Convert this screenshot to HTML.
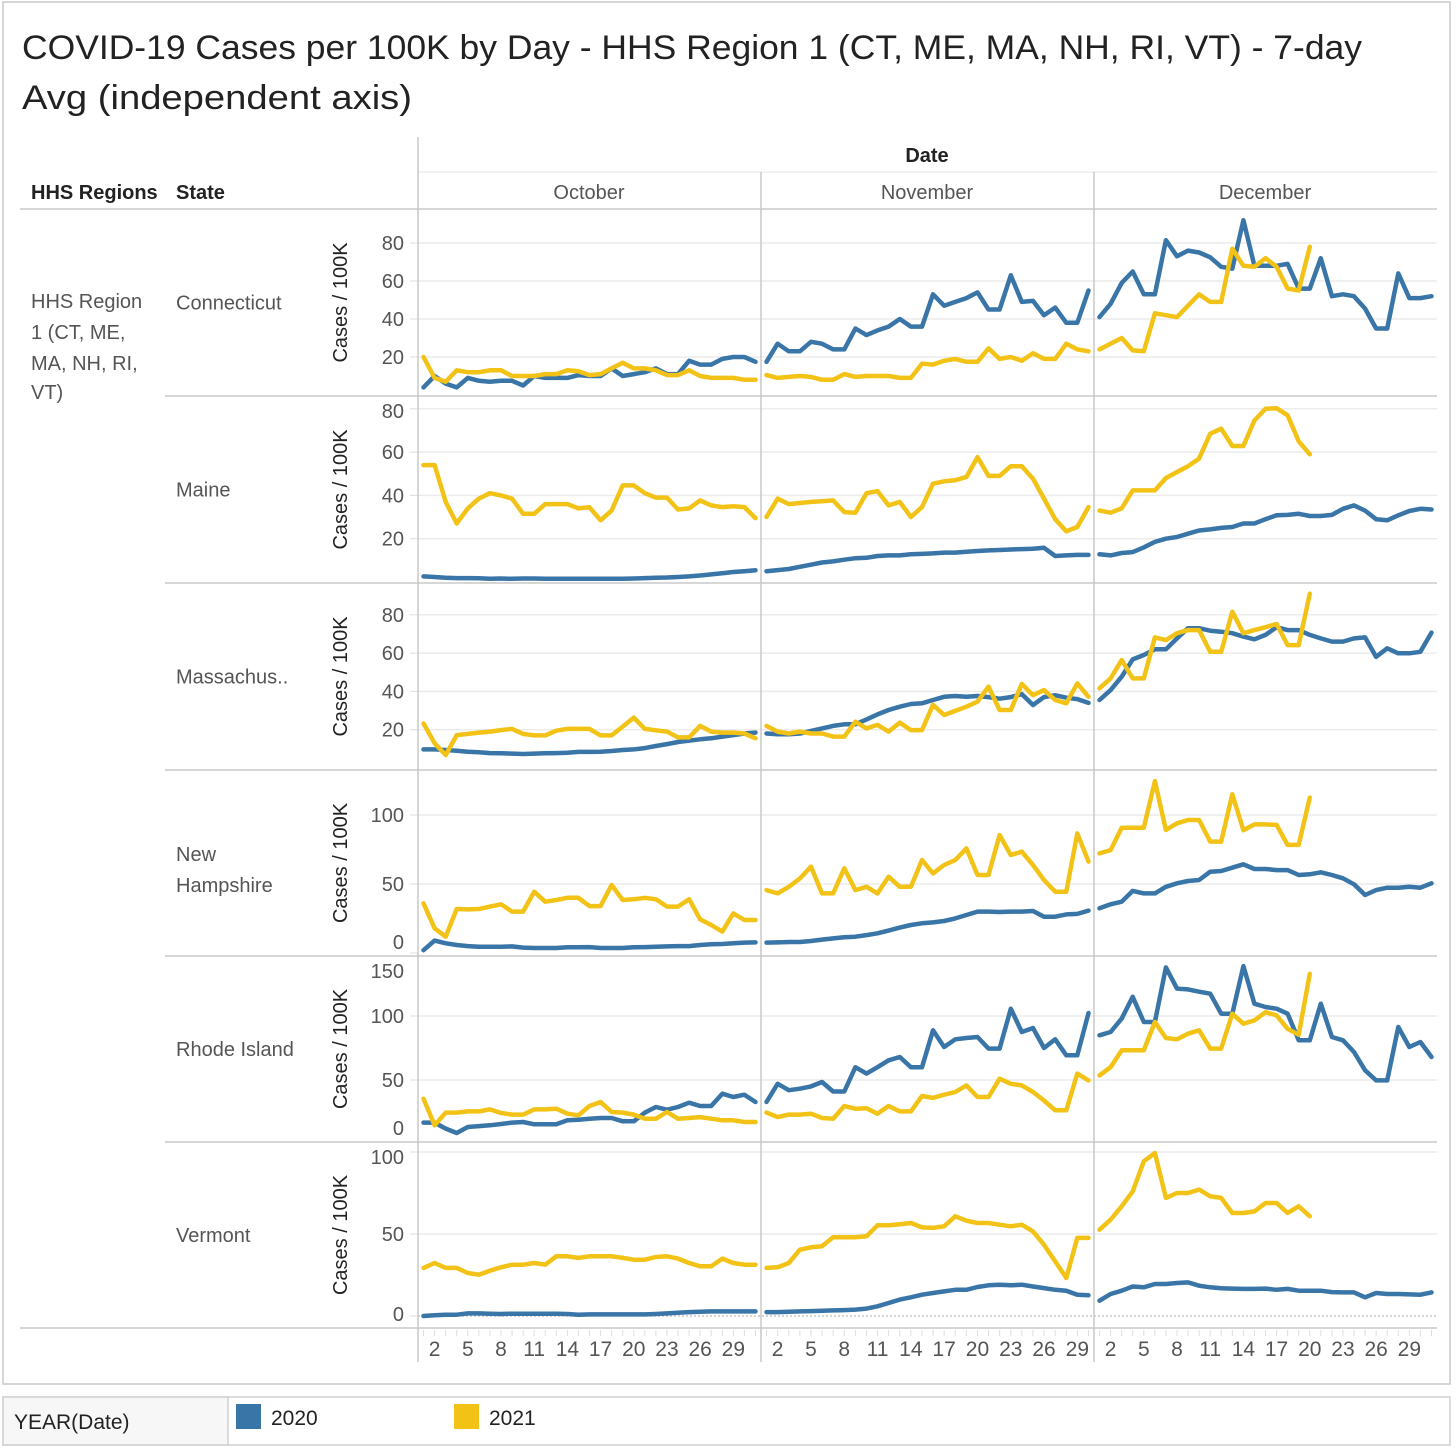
<!DOCTYPE html>
<html><head><meta charset="utf-8">
<style>
html,body{margin:0;padding:0;background:#fff;}
svg{display:block;font-family:"Liberation Sans",sans-serif;}
</style></head>
<body>
<svg id="chart" xmlns="http://www.w3.org/2000/svg" width="1456" height="1452" viewBox="0 0 1456 1452">
<rect x="3" y="2" width="1447" height="1382" fill="#fff" stroke="#c8c8c8" stroke-width="1.5"/>
<text x="22" y="59" font-size="34" fill="#222" textLength="1340" lengthAdjust="spacingAndGlyphs">COVID-19 Cases per 100K by Day - HHS Region 1 (CT, ME, MA, NH, RI, VT) - 7-day</text>
<text x="22" y="109" font-size="34" fill="#222" textLength="390" lengthAdjust="spacingAndGlyphs">Avg (independent axis)</text>
<text x="927" y="162" font-size="20" font-weight="bold" fill="#222" text-anchor="middle">Date</text>
<text x="31" y="199" font-size="20" font-weight="bold" fill="#222">HHS Regions</text>
<text x="176" y="199" font-size="20" font-weight="bold" fill="#222">State</text>
<text x="589" y="199" font-size="20" fill="#555" text-anchor="middle">October</text>
<text x="927" y="199" font-size="20" fill="#555" text-anchor="middle">November</text>
<text x="1265" y="199" font-size="20" fill="#555" text-anchor="middle">December</text>
<g font-size="20" fill="#555">
<text x="31" y="308">HHS Region</text>
<text x="31" y="339">1 (CT, ME,</text>
<text x="31" y="370">MA, NH, RI,</text>
<text x="31" y="399">VT)</text>
</g>
<g id="grid"></g>
<g id="marks"></g>
<g>
<rect x="3" y="1397" width="1447" height="48" fill="#fff" stroke="#d0d0d0" stroke-width="1.5"/>
<rect x="3" y="1397" width="225" height="48" fill="#f7f7f7" stroke="#d0d0d0" stroke-width="1.5"/>
<text x="14" y="1429" font-size="21" fill="#222">YEAR(Date)</text>
<rect x="236" y="1404" width="25" height="25" fill="#3a75a8"/>
<text x="271" y="1425" font-size="21" fill="#222">2020</text>
<rect x="454" y="1404" width="25" height="25" fill="#f2c316"/>
<text x="489" y="1425" font-size="21" fill="#222">2021</text>
</g>
</svg>
<script>
// ---- data (Oct 1..31, Nov 1..30, Dec 1..31) ----
const states = ["Connecticut","Maine","Massachus..","New Hampshire","Rhode Island","Vermont"];
const monthNames = ["October","November","December"];
const monthDays = [31,30,31];
const xTickLabels = [2,5,8,11,14,17,20,23,26,29];
const ct2020 = [4,10,6,4,9,7.5,7,7.5,7.5,5,10,9,9,9,10.5,10,10,14,10,11,12,14,11,11,18,16,16,19,20,20,17.5,
 17.5,27,23,23,28,27,24,24,35,31.5,34,36,40,36,36,53,47,49,51,54,45,45,63,49,49.5,42,46,38,38,55,
 41,48,59,65,53,53,81.5,73,76,75,72.5,67.5,66.5,92,68,68,68,69,56,56,72,52,53,52,45.5,35,35,64,51,51,52];
const ct2021 = [20,9,7,13,12,12,13,13,10,10,10,11,11,13,12.5,10.5,11,14,17,14,14,13,10.5,10.5,13,10,9,9,9,8,8,
 10.5,9,9.5,10,9.5,8,8,11,9.5,10,10,10,9,9,16.5,16,18,19,17.5,17.5,24.5,19,20,18,22,19,19,27,24,23,
 24,27,30,23.5,23,43,42,41,47,53,49,49,77,68,67.5,72,67.5,56,55,78];
const me2020 = [2.6,2.3,2,1.8,1.8,1.7,1.5,1.6,1.5,1.6,1.6,1.5,1.5,1.5,1.5,1.5,1.5,1.5,1.5,1.6,1.8,2,2.1,2.3,2.6,3,3.5,4,4.6,5,5.4,
 5,5.5,6,7,8,9,9.5,10.3,11,11.2,12,12.3,12.3,12.8,13,13.2,13.6,13.6,14,14.3,14.6,14.8,15,15.2,15.4,15.8,12,12.3,12.5,12.5,
 12.8,12.3,13.4,13.8,16,18.5,20,20.8,22.3,23.8,24.3,25,25.4,27,27,29,30.8,31,31.5,30.5,30.5,31,33.8,35.4,33,29,28.5,30.8,32.8,33.8,33.5];
const me2021 = [54,54,37,27,34,38.5,41,40,38.5,31.5,31.5,36,36,36,34,34.5,28.5,33,44.6,44.6,41,39,39,33.5,34,37.7,35.4,34.6,35,34.6,29.5,
 30,38.5,36,36.5,37,37.3,37.7,32.3,32,41,42,35.4,37,30,34.6,45.4,46.5,47,48.5,57.7,49,49,53.5,53.5,47.7,38.5,29,23.4,25.4,34.6,
 33,32,34,42.3,42.3,42.3,48,50.8,53.5,57,68.5,70.8,62.8,62.8,74.6,80,80.3,77,65,59];
const ma2020 = [9.7,9.7,9.4,9,8.5,8.2,7.8,7.7,7.5,7.3,7.5,7.7,7.8,8,8.4,8.4,8.5,8.9,9.4,9.7,10.4,11.5,12.5,13.6,14.3,15,15.5,16.4,17.2,18,18.5,
 18,17.6,17.6,18,19.3,20.7,22,22.8,22.8,25.4,28,30.3,32,33.4,33.8,35.5,37.2,37.6,37.2,37.6,37,36.2,37,38.6,32.9,37,38,36.7,36,34,
 35.5,40.7,47.7,56.7,59,62,62,67.7,73,73,71.7,71.2,70.4,68.6,67.2,69.5,73.5,72,72,69.5,67.7,66,66,67.7,68.2,58,62.5,59.9,59.9,60.7,70.7];
const ma2021 = [23.3,12.9,6.8,17.2,17.8,18.5,19,19.8,20.4,17.8,17,17,19.5,20.4,20.5,20.4,17,17,21.6,26.3,20.4,19.7,19,16,16,22,19,18.5,18.5,18,15.5,
 22,19,18,19,18,18,16.4,16.4,24.2,20.7,22.5,19,23.7,19.8,19.8,33,27.7,29.8,32,34.6,42.5,30.3,30.3,43.9,38,40.7,35.5,33.8,44.2,37.2,
 41.6,46.8,56.4,46.8,46.8,68.2,66.8,70.4,72,72,60.7,60.7,81.6,70.4,72,73.5,75.2,64.2,64.2,91];
const nh2020 = [2,9,7,5.8,5,4.6,4.6,4.6,4.8,3.9,3.6,3.6,3.6,4.1,4.1,4.3,3.6,3.6,3.6,4.1,4.3,4.6,4.8,5,5,5.8,6.3,6.5,7,7.5,7.7,
 7.5,7.7,8,8,8.7,9.7,10.6,11.4,11.8,13,14.3,16.2,18.4,20.3,21.5,22.2,23.2,25.1,27.5,30,30,29.7,30,30,30.4,26.3,26.3,28,28.3,30.7,
 32.4,35.3,37.2,45,43.2,43.2,48,50.5,52.2,52.9,58.9,59.4,61.8,64.3,60.9,60.9,60.1,60.1,56.5,57,58.5,56.5,54.1,49.8,42,45.6,47.3,47.3,48,47.3,50.5];
const nh2021 = [36,17.9,11.8,31.9,31.6,31.9,33.6,35.3,30,30,44.4,37.2,38.4,40,40,34,34,49.3,38.4,38.9,40,38.9,33.6,33.6,39,24.4,20.3,15.5,28.7,23.9,23.9,
 45.6,43.2,48,54,62.6,43.2,43.2,61.4,45.6,48,43.2,55.3,48,48,67.4,57.7,63.8,67.4,75.8,56.5,56.5,85.5,71,73.4,63.8,52.9,44.4,44.4,86.7,66.2,
 72.2,74.6,90.8,90.8,90.8,124.6,89.1,94,96.4,96.4,80.7,80.7,115,89,93.2,93.2,92.8,78.3,78.3,112.6];
const ri2020 = [16.7,16.7,12,8.6,13.3,14,14.6,15.6,16.7,17.2,15.4,15.4,15.4,18.5,19,19.8,20.3,20.3,17.7,17.7,24.5,28.9,26.8,28.9,32.3,29.7,29.7,39.3,36.7,38.5,32.8,
 32.8,47,42,43.2,45,48.4,41,41,60,55,60,65.4,68,60,60,88.8,75.8,81.8,82.8,83.6,74.5,74.5,105.7,87.5,90.6,75,81.8,69.3,69.3,102.3,
 84.9,87.5,98,115,95.3,95.3,138,121.4,120.8,119,117.4,101.8,101.8,139,109.6,107,105.7,101.8,81,81,109.6,83.6,81,71.9,57.6,49.7,49.7,91.4,75.8,79.7,68];
const ri2021 = [35.4,14.6,24.5,24.5,25.5,25.5,27,24.2,23,23,27,27,27.6,23.7,22.4,29.7,32.8,25,24.5,23,19.8,19.8,25,19.8,20.3,21,19.8,18.5,18.5,17.2,17.2,
 24.5,21,23,23,23.7,20.3,19.8,29.7,27.6,28,23.7,29.7,25.5,25.5,37.5,36,38.5,40.6,45.8,36.7,36.7,51,47,45.8,40.6,34,26.3,26.3,55,49.7,
 53.6,60,73.2,73.2,73.2,95.3,82.8,81.8,86.2,88.8,74.5,74.5,101.8,94,96.6,103,100.5,90,85.4,133];
const vt2020 = [0,0.4,0.8,0.8,1.6,1.6,1.4,1.2,1.4,1.4,1.4,1.4,1.4,1.2,0.8,1,1,1,1,1,1,1.2,1.6,2,2.4,2.6,2.8,2.8,2.8,2.8,2.8,
 2.4,2.4,2.6,2.8,3,3.2,3.4,3.6,3.9,4.5,5.9,7.9,10,11.4,13,14,15,16,16,17.7,18.7,19.1,18.7,19.1,18,17,16,15.4,13,12.6,
 9.3,13.4,15.4,18,17.5,19.5,19.5,20.1,20.5,18.5,17.5,16.9,16.7,16.5,16.5,16.7,16,16.5,15.4,15.4,15.4,14.6,14.4,14.4,11.4,14,13.4,13.4,13.2,13,14.4];
const vt2021 = [29.3,32.3,29.3,29.3,26.2,25.2,27.6,29.7,31.3,31.3,32.3,31.3,36.4,36.4,35.4,36.4,36.4,36.4,35.4,34.3,34.3,36,36.4,35,32.3,30.3,30.3,35,32.3,31.3,31.3,
 29.3,29.7,32.3,40.4,41.9,42.5,48,48,48,48.6,55.3,55.3,56,56.7,54,53.7,54.7,60.8,58.1,56.7,56.7,55.7,54.7,55.7,51.6,43.5,33.3,23.2,47.6,47.6,
 52.6,58.7,66.9,76,94.3,99.4,72,75,75,77.1,73,72,62.8,62.8,63.8,68.9,68.9,62.8,66.9,60.8];
const series2020 = [ct2020, me2020, ma2020, nh2020, ri2020, vt2020];
const series2021 = [ct2021, me2021, ma2021, nh2021, ri2021, vt2021];
const yTicks = [[20,40,60,80],[20,40,60,80],[20,40,60,80],[0,50,100],[0,50,100,150],[0,50,100]];

// ---- layout ----
const NS = "http://www.w3.org/2000/svg";
const rowTops = [209,396,583,770,956,1142,1328];
const rowZero = [395,582,768,953,1144,1316];
const rowScale = [1.9,2.165,1.915,1.38,1.28,1.64];
const monthLeft = [418,761,1094];
const monthRight = [761,1094,1437];
const grid = document.getElementById("grid");
const marks = document.getElementById("marks");

function mk(tag, attrs, parent){
  const e = document.createElementNS(NS, tag);
  for (const k in attrs) e.setAttribute(k, attrs[k]);
  parent.appendChild(e);
  return e;
}
function xScale(m, d){
  const pitch = (monthRight[m]-monthLeft[m]) / monthDays[m];
  return monthLeft[m] + (d - 0.5) * pitch;
}
function yScale(r, v){ return rowZero[r] - v * rowScale[r]; }

// clip paths per row
const defs = mk("defs", {}, document.getElementById("chart"));
for (let r = 0; r < 6; r++){
  const cp = mk("clipPath", {id: "clip"+r}, defs);
  mk("rect", {x: 418, y: rowTops[r]+1, width: 1019, height: rowTops[r+1]-rowTops[r]-2}, cp);
}

// gridlines, tick labels, row labels
for (let r = 0; r < 6; r++){
  const top = rowTops[r], bot = rowTops[r+1];
  yTicks[r].forEach(v => {
    const y = yScale(r, v);
    if (v > 0 && y > top + 2 && y < bot - 2){
      const gl = mk("line", {x1: 418, x2: 1437, y1: y, y2: y, stroke: "#ececec", "stroke-width": 1.5}, grid);
      
      
    }
    let ly = y + 7;
    if (ly < top + 22) ly = top + 22;
    if (ly > bot - 7) ly = bot - 7;
    const t = mk("text", {x: 404, y: ly, "font-size": 20, fill: "#555", "text-anchor": "end"}, grid);
    t.textContent = v;
    
    
    const tk = mk("line", {x1: 410, x2: 418, y1: y, y2: y, stroke: "#ddd", "stroke-width": 1}, grid);
    if (y < top || y > bot) tk.setAttribute("visibility", "hidden");
    
    
  });
  const at = mk("text", {x: 0, y: 0, "font-size": 20, fill: "#222", "text-anchor": "middle",
    transform: "translate(347," + ((top+bot)/2) + ") rotate(-90)"}, grid);
  at.textContent = "Cases / 100K";
  
  
  const sl = mk("text", {x: 176, y: 0, "font-size": 20, fill: "#555"}, grid);
  
  
  if (states[r] === "New Hampshire"){
    sl.setAttribute("y", (top+bot)/2 - 2);
    const t1 = mk("tspan", {x: 176}, sl); t1.textContent = "New";
    const t2 = mk("tspan", {x: 176, dy: 31}, sl); t2.textContent = "Hampshire";
  } else {
    sl.setAttribute("y", (top+bot)/2 + 7);
    sl.textContent = states[r];
  }
  // row separator
  const sep = mk("line", {x1: r === 0 ? 20 : 165, x2: 1437, y1: top, y2: top, stroke: "#c8c8c8", "stroke-width": 1.5}, grid);
  
  
}
// VT zero dotted line
const zl = mk("line", {x1: 418, x2: 1437, y1: rowZero[5], y2: rowZero[5], stroke: "#bbb", "stroke-width": 1.2, "stroke-dasharray": "2,2"}, grid);


// bottom line
const bl = mk("line", {x1: 20, x2: 1437, y1: 1328, y2: 1328, stroke: "#c8c8c8", "stroke-width": 1.5}, grid);


// month header line and column separators
const hl = mk("line", {x1: 418, x2: 1437, y1: 172, y2: 172, stroke: "#e4e4e4", "stroke-width": 1}, grid);


[418,761,1094].forEach((x,i) => {
  const v = mk("line", {x1: x, x2: x, y1: i === 0 ? 137 : 172, y2: 1362, stroke: "#c8c8c8", "stroke-width": 1.5}, grid);
  
  
});
// x axis ticks and labels
for (let m = 0; m < 3; m++){
  for (let d = 1; d <= monthDays[m]; d++){
    const x = xScale(m, d);
    const tk = mk("line", {x1: x, x2: x, y1: 1330, y2: 1336, stroke: "#ddd", "stroke-width": 1}, grid);
    
    
  }
  xTickLabels.forEach(d => {
    const t = mk("text", {x: xScale(m, d), y: 1356, "font-size": 21, fill: "#555", "text-anchor": "middle"}, grid);
    t.textContent = d;
    
    
  });
}

// series lines
function drawSeries(arr, r, color, year){
  const g = mk("g", {"clip-path": "url(#clip"+r+")"}, marks);
  let offset = 0;
  for (let m = 0; m < 3; m++){
    const pts = [];
    for (let d = 1; d <= monthDays[m]; d++){
      const v = arr[offset + d - 1];
      if (v === undefined) break;
      pts.push(xScale(m, d).toFixed(1) + "," + yScale(r, v).toFixed(1));
    }
    offset += monthDays[m];
    if (pts.length < 2) continue;
    const pl = mk("polyline", {points: pts.join(" "), fill: "none", stroke: color, "stroke-width": 4.5,
      "stroke-linejoin": "round", "stroke-linecap": "round"}, g);
    
    
  }
}
for (let r = 0; r < 6; r++){
  drawSeries(series2020[r], r, "#3a75a8", "2020");
  drawSeries(series2021[r], r, "#f2c316", "2021");
}
</script>
</body></html>
